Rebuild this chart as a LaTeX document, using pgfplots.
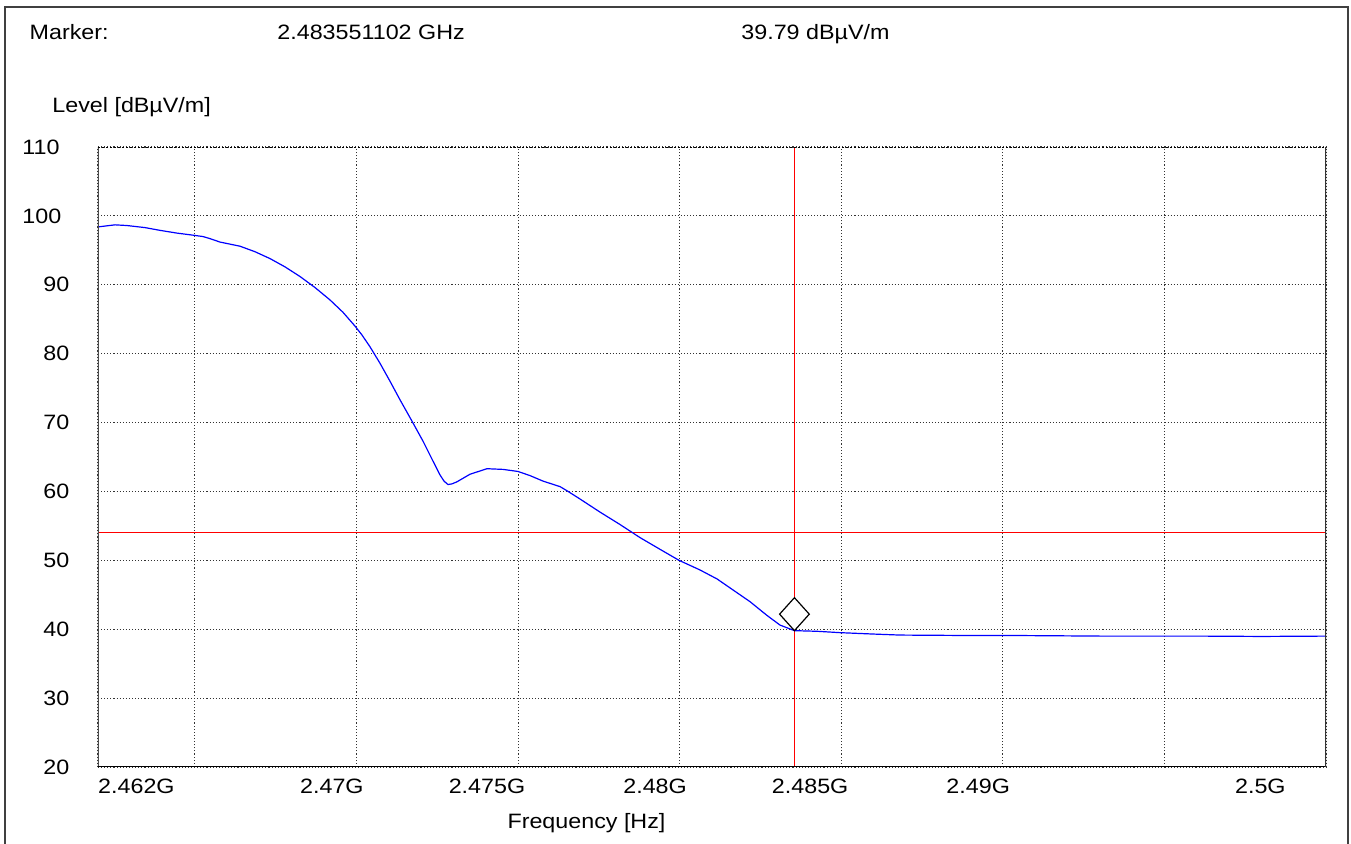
\documentclass[border=0pt]{standalone}
\usepackage{pgfplots}
\pgfplotsset{compat=1.18}
\usepackage{fontspec}
\setmainfont{Liberation Sans}[FakeStretch=1.12]
\begin{document}
\fontsize{10.4}{12}\selectfont
\begin{tikzpicture}
\useasboundingbox (-49pt,-38.5pt) rectangle (626.5pt,383.5pt);
\draw[line width=0.6pt, black!75] (-46.5pt,-45pt) rectangle (625pt,380pt);
\begin{axis}[
  at={(0,0)}, anchor=south west,
  scale only axis, width=614pt, height=310pt,
  xmin=2.462, xmax=2.5, ymin=20, ymax=110,
  xtick={2.462,2.465,2.47,2.475,2.48,2.485,2.49,2.495,2.5},
  xticklabels={2.462G\hspace*{-34.75pt},{},2.47G,2.475G,2.48G,2.485G,2.49G,{},2.5G\hspace*{23.75pt}},
  ytick={20,30,40,50,60,70,80,90,100,110},
  yticklabels={20,30,40,50,60,70,80,90,\hspace*{-10.5pt}100,\hspace*{-10.5pt}110},
  major tick length=0pt,
  grid=major,
  major grid style={black!80, line width=0.55pt, densely dotted},
  axis line style={draw=none},
  xticklabel style={anchor=base east, inner sep=0pt, xshift=3.75pt, yshift=-13.5pt},
  yticklabel style={anchor=west, inner sep=0pt, xshift=-27.5pt},
  xlabel={Frequency [Hz]},
  every axis x label/.style={at={(axis description cs:0.3978,-0.1)}, anchor=base, inner sep=0pt},
  ylabel={Level [dBµV/m]},
  every axis y label/.style={at={(axis description cs:-0.03746,1.05484)}, anchor=base west, inner sep=0pt},
  clip=true,
]
\addplot[red, line width=0.55pt] coordinates {(2.462,54) (2.5,54)};
\addplot[red, line width=0.55pt] coordinates {(2.483551102,20) (2.483551102,110)};
\addplot[blue, line width=0.6pt] table {
x y
2.462000 98.4
2.462526 98.7
2.462897 98.6
2.463454 98.3
2.463919 97.9
2.464445 97.5
2.464940 97.2
2.465249 97.0
2.465466 96.7
2.465775 96.2
2.466394 95.6
2.466858 94.8
2.467323 93.8
2.467787 92.6
2.468251 91.2
2.468715 89.6
2.469179 87.8
2.469582 86.0
2.469953 84.0
2.470170 82.7
2.470417 81.0
2.470727 78.6
2.471036 76.0
2.471346 73.3
2.471717 70.2
2.472057 67.3
2.472367 64.4
2.472583 62.4
2.472707 61.5
2.472831 61.0
2.472955 61.1
2.473109 61.4
2.473512 62.5
2.474038 63.3
2.474533 63.2
2.474997 62.9
2.475368 62.3
2.475771 61.5
2.476297 60.7
2.476513 60.1
2.476916 58.9
2.477535 57.0
2.478153 55.2
2.478772 53.3
2.479391 51.6
2.479979 50.0
2.480629 48.6
2.481155 47.3
2.481650 45.7
2.482176 44.0
2.482702 42.0
2.483105 40.6
2.483551 39.79
2.484250 39.7
2.484962 39.5
2.485983 39.3
2.486818 39.15
2.488500 39.1
2.489913 39.1
2.491500 39.05
2.493007 39.0
2.494500 39.0
2.496101 39.0
2.498000 38.95
2.500000 39.0
};
\addplot[only marks, mark=square*, mark size=5.83pt,
  mark options={fill=white, draw=black, line width=0.6pt, yshift=8.25pt, xscale=0.9, rotate=45}]
  coordinates {(2.483551102,39.79)};
\draw[black!70, line width=0.9pt] (rel axis cs:0,1) -- (rel axis cs:0,0);
\draw[black, line width=0.8pt] (rel axis cs:0,0) -- (rel axis cs:1,0);
\draw[black!80, line width=0.8pt] (rel axis cs:1,0) -- (rel axis cs:1,1);
\draw[black, line width=1pt, densely dotted] (rel axis cs:0,1) -- (rel axis cs:1,1);
\end{axis}
\node[anchor=base west, inner sep=0pt] at (-34.35pt,363.5pt) {Marker:};
\node[anchor=base west, inner sep=0pt] at (89.5pt,363.5pt) {2.483551102 GHz};
\node[anchor=base west, inner sep=0pt] at (321.5pt,363.5pt) {39.79 dBµV/m};
\end{tikzpicture}
\end{document}
